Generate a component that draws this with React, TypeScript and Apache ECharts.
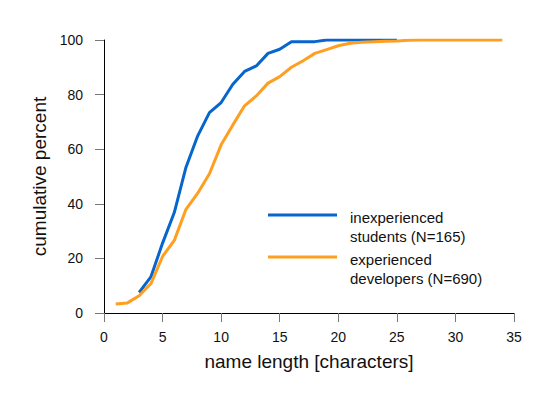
import React, { useEffect, useRef } from "react";
import * as echarts from "echarts";

const studentLengths = [3, 4, 5, 6, 7, 8, 9, 10, 11, 12, 13, 14, 15, 16, 17, 18, 19, 20, 21, 22, 23, 24, 25];
const studentPercent = [7.5, 13.2, 25.6, 36.8, 53.4, 64.9, 73.4, 77.1, 83.8, 88.5, 90.5, 95.1, 96.6, 99.4, 99.4, 99.4, 100, 100, 100, 100, 100, 100, 100];

const devLengths = [1, 2, 3, 4, 5, 6, 7, 8, 9, 10, 11, 12, 13, 14, 15, 16, 17, 18, 19, 20, 21, 22, 23, 24, 25, 26, 27, 28, 29, 30, 31, 32, 33, 34];
const devPercent = [3.3, 3.7, 6.3, 10.7, 20.7, 26.6, 38, 43.9, 51, 61.6, 68.9, 75.9, 79.5, 84.2, 86.6, 90, 92.4, 95.1, 96.5, 97.9, 98.8, 99.2, 99.4, 99.5, 99.6, 99.9, 100, 100, 100, 100, 100, 100, 100, 100];

const xTicks = [0, 5, 10, 15, 20, 25, 30, 35];
const yTicks = [0, 20, 40, 60, 80, 100];

const studentLabel = "inexperienced\nstudents (N=165)";
const devLabel = "experienced\ndevelopers (N=690)";

const BLUE = "#0766cc";
const ORANGE = "#ff9f22";
const FONT = "Liberation Sans, Arial, sans-serif";

export default function App() {
  const ref = useRef<HTMLDivElement>(null);
  useEffect(() => {
    if (!ref.current) return;
    const chart = echarts.init(ref.current, null, { renderer: "svg" });
    const axisCommon = {
      axisLine: { show: true, lineStyle: { color: "#000", width: 1 } },
      axisTick: { show: true, inside: false, length: 9, lineStyle: { color: "#777", width: 1 } },
      splitLine: { show: false },
      nameLocation: "middle" as const,
      nameTextStyle: { fontFamily: FONT, fontSize: 19, color: "#111" },
    };
    chart.setOption({
      animation: false,
      backgroundColor: "#fff",
      textStyle: { fontFamily: FONT },
      grid: { left: 104, right: 42, top: 40, bottom: 82, containLabel: false },
      xAxis: {
        ...axisCommon,
        type: "value",
        min: xTicks[0],
        max: xTicks[xTicks.length - 1],
        interval: 5,
        name: "name length [characters]",
        nameGap: 39,
        axisLabel: { fontFamily: FONT, fontSize: 14, color: "#111", margin: 17 },
      },
      yAxis: {
        ...axisCommon,
        type: "value",
        min: yTicks[0],
        max: yTicks[yTicks.length - 1],
        interval: 20,
        name: "cumulative percent",
        nameGap: 50,
        axisLabel: { fontFamily: FONT, fontSize: 14, color: "#111", margin: 21 },
      },
      series: [
        {
          type: "line",
          data: studentLengths.map((x, i) => [x, studentPercent[i]]),
          symbol: "none",
          lineStyle: { color: BLUE, width: 3 },
          itemStyle: { color: BLUE },
        },
        {
          type: "line",
          data: devLengths.map((x, i) => [x, devPercent[i]]),
          symbol: "none",
          lineStyle: { color: ORANGE, width: 3 },
          itemStyle: { color: ORANGE },
        },
      ],
      graphic: [
        { type: "line", shape: { x1: 268, y1: 215, x2: 337, y2: 215 }, style: { stroke: BLUE, lineWidth: 3 } },
        { type: "line", shape: { x1: 268, y1: 257, x2: 337, y2: 257 }, style: { stroke: ORANGE, lineWidth: 3 } },
        {
          type: "text", x: 350, y: 208,
          style: { text: studentLabel, fontFamily: FONT, fontSize: 15, fill: "#111", lineHeight: 19 },
        },
        {
          type: "text", x: 350, y: 250,
          style: { text: devLabel, fontFamily: FONT, fontSize: 15, fill: "#111", lineHeight: 19 },
        },
      ],
    });
    return () => chart.dispose();
  }, []);
  return <div ref={ref} style={{ position: "fixed", left: 0, top: 0, width: 556, height: 395 }} />;
}
